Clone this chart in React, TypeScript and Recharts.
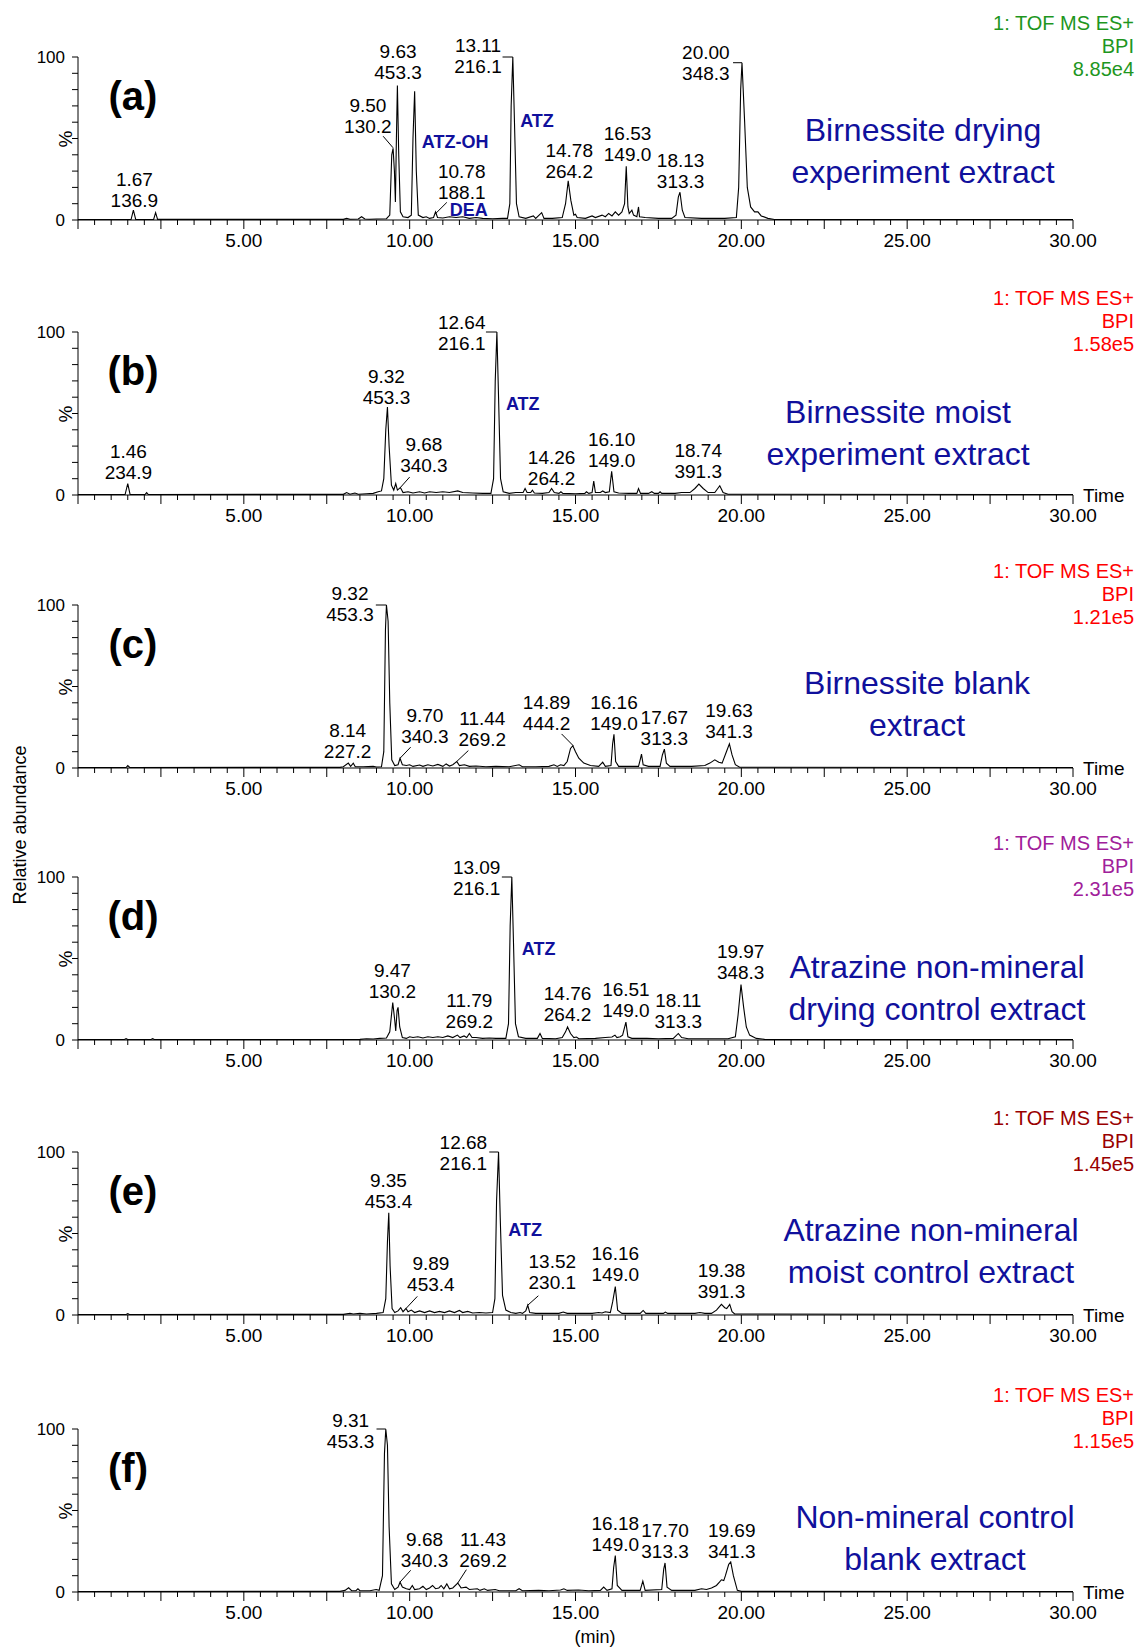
import React from "react";
import { ComposedChart, Line, Scatter, XAxis, YAxis, ReferenceLine } from "recharts";

const FONT = '"Liberation Sans", Arial, Helvetica, sans-serif';
const INK = "#000";
const NAVY = "#10109c";

// [retention time (min), relative abundance (%)]
type Pt = [number, number];
// [time, abundance at the lower text line, retention time text, m/z text]
type PeakLabel = [number, number, string, string];
// [time, abundance, compound name]
type Tag = [number, number, string];
// leader / bracket segment [t1, v1, t2, v2]
type Seg = [number, number, number, number];

const X_LABELS = [5, 10, 15, 20, 25, 30];
const Y_LABELS = [0, 100];
const X_TICKS = Array.from({ length: 61 }, (_, i) => i * 0.5);
const Y_TICKS = [0, 10, 20, 30, 40, 50, 60, 70, 80, 90, 100];

const traceA: Pt[] = [
  [0, 0.3], [1.6, 0.3], [1.67, 6], [1.74, 0.4], [2.28, 0.3], [2.34, 4.5], [2.4, 0.4],
  [8.0, 0.4], [8.1, 1], [8.2, 0.5], [8.45, 0.6], [8.55, 2], [8.65, 0.6], [8.8, 0.5], [9.0, 0.6],
  [9.3, 0.8], [9.4, 3], [9.46, 40], [9.5, 44], [9.54, 30], [9.57, 11], [9.6, 50], [9.63, 82.5],
  [9.67, 40], [9.72, 5], [9.8, 2], [9.95, 1.5], [10.05, 3], [10.1, 50], [10.15, 79], [10.2, 30],
  [10.26, 3], [10.4, 1.5], [10.5, 2], [10.6, 1], [10.72, 1.5], [10.78, 5], [10.84, 1.5], [11.0, 1.2],
  [11.2, 2], [11.4, 1.5], [11.6, 2], [11.8, 1], [12.0, 1.5], [12.2, 1], [12.5, 0.8], [12.8, 1],
  [12.95, 1], [13.02, 10], [13.06, 70], [13.11, 100], [13.16, 60], [13.22, 10], [13.3, 2], [13.5, 1],
  [13.73, 2.5], [13.8, 1], [13.98, 4.5], [14.05, 1], [14.3, 1], [14.6, 1.5], [14.7, 10], [14.78, 24],
  [14.86, 12], [14.95, 3], [15.0, 3.5], [15.05, 1.5], [15.3, 1], [15.5, 2.5], [15.6, 1.5], [15.8, 3],
  [15.9, 2], [16.0, 4], [16.1, 2.5], [16.2, 5], [16.3, 3], [16.4, 5], [16.48, 10], [16.53, 33],
  [16.58, 8], [16.62, 4], [16.7, 6], [16.75, 3], [16.85, 2], [16.9, 8], [16.93, 2], [17.1, 1.5],
  [17.5, 1], [17.9, 1], [18.03, 3], [18.1, 14], [18.15, 17], [18.22, 6], [18.3, 1.5], [18.8, 1],
  [19.5, 1], [19.85, 1.5], [19.92, 20], [19.98, 80], [20.02, 96.5], [20.1, 60], [20.18, 20],
  [20.28, 8], [20.4, 5], [20.5, 5], [20.6, 2.5], [20.8, 1], [21.0, 0.3], [30, 0.3],
];
const labelsA: PeakLabel[] = [
  [1.7, 11.8, "1.67", "136.9"], [8.74, 57.5, "9.50", "130.2"], [9.65, 90.5, "9.63", "453.3"],
  [12.06, 94, "13.11", "216.1"], [11.57, 17, "10.78", "188.1"], [14.81, 30, "14.78", "264.2"],
  [16.57, 40.2, "16.53", "149.0"], [18.17, 23.4, "18.13", "313.3"], [18.93, 90, "20.00", "348.3"],
];
const tagsA: Tag[] = [[11.37, 48, "ATZ-OH"], [13.84, 60.5, "ATZ"], [11.78, 6.3, "DEA"]];
const segsA: Seg[] = [
  [9.2, 51.4, 9.5, 44.3], [11.12, 10.8, 10.79, 4.1], [12.8, 100, 13.11, 100], [19.75, 96.5, 20.02, 96.5],
];

const traceB: Pt[] = [
  [0, 0.3], [1.42, 0.3], [1.5, 7], [1.57, 0.4], [2.02, 0.3], [2.07, 1.5], [2.12, 0.3], [8.0, 0.4],
  [8.1, 1.5], [8.2, 0.5], [8.35, 1.2], [8.45, 0.5], [8.7, 0.8], [8.9, 1], [9.05, 2], [9.15, 2.5],
  [9.22, 10], [9.28, 40], [9.33, 54], [9.38, 30], [9.45, 6], [9.52, 3], [9.58, 7], [9.63, 3],
  [9.72, 4.6], [9.8, 1.5], [9.95, 2], [10.1, 1.2], [10.3, 2], [10.45, 1.2], [10.6, 2], [10.8, 1.5],
  [11.0, 2], [11.2, 1.5], [11.45, 2.5], [11.6, 1.5], [11.9, 1.2], [12.2, 1], [12.45, 1], [12.53, 10],
  [12.58, 70], [12.63, 100], [12.68, 60], [12.74, 10], [12.82, 2], [13.0, 1], [13.2, 1.5], [13.42, 1.5],
  [13.48, 4], [13.54, 1.5], [13.65, 1.5], [13.7, 3], [13.76, 1.2], [14.0, 1], [14.2, 1.5], [14.28, 4],
  [14.36, 1.5], [14.5, 1], [14.56, 2], [14.62, 1], [15.0, 0.8], [15.28, 1], [15.33, 2], [15.4, 1],
  [15.5, 1.5], [15.55, 8.5], [15.6, 1.5], [15.75, 1.5], [15.82, 2.5], [15.9, 1.5], [16.02, 2],
  [16.09, 14.5], [16.16, 2], [16.3, 1.2], [16.6, 1], [16.85, 1], [16.9, 4], [16.96, 1], [17.2, 1],
  [17.3, 2], [17.38, 1], [17.5, 1], [17.55, 2], [17.6, 1], [18.0, 1], [18.2, 1.5], [18.45, 1.5],
  [18.6, 4], [18.72, 6.7], [18.85, 4], [19.0, 1.5], [19.2, 1.5], [19.35, 5.7], [19.45, 1.5],
  [19.6, 0.5], [30, 0.3],
];
const labelsB: PeakLabel[] = [
  [1.52, 14.1, "1.46", "234.9"], [9.3, 59.6, "9.32", "453.3"], [10.43, 18.2, "9.68", "340.3"],
  [11.57, 93, "12.64", "216.1"], [14.28, 10.1, "14.26", "264.2"], [16.09, 21.2, "16.10", "149.0"],
  [18.7, 14.5, "18.74", "391.3"],
];
const tagsB: Tag[] = [[13.41, 56, "ATZ"]];
const segsB: Seg[] = [[10.0, 11, 9.72, 4.6], [12.3, 100, 12.63, 100]];

const traceC: Pt[] = [
  [0, 0.3], [1.45, 0.3], [1.5, 1.5], [1.56, 0.3], [7.9, 0.4], [8.0, 0.8], [8.15, 3], [8.22, 1],
  [8.3, 3], [8.36, 0.8], [8.6, 0.8], [8.9, 1], [9.0, 0.6], [9.15, 0.8], [9.22, 10], [9.27, 85],
  [9.3, 100], [9.35, 90], [9.4, 40], [9.46, 5], [9.55, 1.5], [9.65, 2], [9.71, 6], [9.78, 2],
  [9.9, 1.5], [10.0, 2], [10.1, 1], [10.3, 1.8], [10.4, 1], [10.55, 2], [10.7, 1.2], [10.85, 2.2],
  [11.0, 1], [11.1, 2.5], [11.2, 1.2], [11.3, 2], [11.42, 4], [11.5, 1.5], [11.65, 2], [11.8, 1],
  [12.0, 1.2], [12.3, 0.8], [12.6, 1], [13.0, 0.8], [13.3, 2], [13.4, 0.8], [13.8, 0.8], [14.2, 1],
  [14.35, 2], [14.45, 1], [14.55, 2], [14.65, 1.5], [14.75, 4], [14.85, 12], [14.92, 13.7], [15.0, 10],
  [15.1, 6], [15.25, 3], [15.45, 1.5], [15.7, 1], [15.82, 3.6], [15.9, 1], [16.07, 1.5], [16.12, 15],
  [16.16, 20.7], [16.21, 4], [16.3, 1], [16.9, 1], [16.95, 5], [16.99, 8.5], [17.04, 2], [17.2, 1],
  [17.55, 1], [17.62, 8], [17.68, 11.6], [17.74, 3], [17.85, 1], [18.5, 1], [18.9, 1.5], [19.05, 3],
  [19.2, 5], [19.32, 3.5], [19.42, 3], [19.55, 10], [19.64, 14.8], [19.72, 8], [19.82, 2],
  [19.95, 0.5], [30, 0.3],
];
const labelsC: PeakLabel[] = [
  [8.13, 10.1, "8.14", "227.2"], [8.2, 94, "9.32", "453.3"], [10.46, 19.2, "9.70", "340.3"],
  [12.19, 17.2, "11.44", "269.2"], [14.13, 27.4, "14.89", "444.2"], [16.16, 27.4, "16.16", "149.0"],
  [17.68, 18.3, "17.67", "313.3"], [19.63, 22.3, "19.63", "341.3"],
];
const tagsC: Tag[] = [];
const segsC: Seg[] = [
  [10.03, 12.8, 9.71, 6], [11.77, 10.7, 11.42, 4], [14.58, 20.9, 14.93, 13.7], [8.98, 100, 9.3, 100],
];

const traceD: Pt[] = [
  [0, 0.3], [1.4, 0.3], [1.45, 0.8], [1.5, 0.3], [2.2, 0.3], [2.25, 0.8], [2.3, 0.3], [8.5, 0.4],
  [8.7, 0.8], [8.9, 0.6], [9.1, 1], [9.3, 1.2], [9.4, 5], [9.49, 23], [9.55, 12], [9.58, 5.5],
  [9.62, 18], [9.65, 20], [9.7, 8], [9.78, 1.5], [9.9, 1], [10.0, 2], [10.1, 1.5], [10.25, 2],
  [10.4, 1.2], [10.55, 2], [10.7, 1.5], [10.85, 2], [11.0, 1.5], [11.15, 2.5], [11.3, 1.5], [11.44, 3],
  [11.52, 1.5], [11.64, 2.5], [11.72, 1.5], [11.8, 4], [11.88, 1.5], [12.0, 1.5], [12.2, 1],
  [12.4, 1.2], [12.6, 1], [12.9, 1], [12.98, 10], [13.03, 70], [13.08, 100], [13.13, 60], [13.19, 10],
  [13.28, 2], [13.5, 1], [13.85, 1], [13.93, 4], [14.0, 1], [14.4, 0.8], [14.6, 1.5], [14.7, 5],
  [14.76, 8], [14.85, 4], [14.95, 1.5], [15.03, 1.8], [15.1, 0.8], [15.6, 1], [15.9, 1.5], [16.1, 1.8],
  [16.19, 3], [16.25, 1.5], [16.35, 2], [16.42, 3], [16.52, 11], [16.58, 2], [16.7, 1], [17.15, 1],
  [17.5, 0.8], [17.95, 1], [18.1, 4], [18.2, 1.5], [18.4, 0.8], [19.6, 0.8], [19.82, 2], [19.9, 15],
  [19.99, 34], [20.07, 20], [20.15, 8], [20.25, 3], [20.45, 1], [20.7, 0.4], [30, 0.3],
];
const labelsD: PeakLabel[] = [
  [9.48, 29.8, "9.47", "130.2"], [11.8, 11.5, "11.79", "269.2"], [12.02, 93, "13.09", "216.1"],
  [14.76, 15.5, "14.76", "264.2"], [16.52, 18.2, "16.51", "149.0"], [18.1, 11.5, "18.11", "313.3"],
  [19.98, 41.3, "19.97", "348.3"],
];
const tagsD: Tag[] = [[13.89, 56, "ATZ"]];
const segsD: Seg[] = [[12.78, 100, 13.08, 100]];

const traceE: Pt[] = [
  [0, 0.3], [1.45, 0.3], [1.5, 0.8], [1.55, 0.3], [8.0, 0.4], [8.2, 1], [8.3, 0.6], [8.5, 1],
  [8.7, 0.6], [9.0, 1], [9.2, 1.5], [9.28, 10], [9.33, 45], [9.37, 62.7], [9.41, 30], [9.47, 4],
  [9.55, 1.5], [9.65, 2.5], [9.73, 4.5], [9.8, 2], [9.89, 4], [9.95, 2], [10.05, 3], [10.15, 1.5],
  [10.3, 2.5], [10.45, 1.5], [10.6, 2.5], [10.75, 1.5], [10.9, 2.2], [11.05, 1.5], [11.2, 2.5],
  [11.35, 1.5], [11.5, 2.8], [11.6, 1.5], [11.75, 2.2], [11.9, 1.2], [12.1, 1.5], [12.3, 1.2],
  [12.5, 1.5], [12.57, 10], [12.62, 70], [12.68, 100], [12.73, 60], [12.8, 12], [12.9, 3], [13.05, 1.5],
  [13.2, 1], [13.33, 1.5], [13.4, 1], [13.5, 2.5], [13.56, 6], [13.62, 1.5], [13.8, 1], [14.5, 1],
  [14.63, 1.8], [14.75, 1], [15.5, 1], [15.7, 1.5], [15.8, 1.2], [15.9, 2], [16.05, 1.5], [16.12, 8],
  [16.2, 17.4], [16.27, 3], [16.4, 1], [16.95, 1], [17.04, 2.8], [17.12, 1], [17.65, 1], [17.71, 1.8],
  [17.78, 1], [18.6, 1], [18.75, 1.5], [18.9, 1], [19.1, 1], [19.25, 3], [19.4, 6.5], [19.5, 4.5],
  [19.56, 4], [19.65, 6.5], [19.72, 2], [19.8, 0.6], [30, 0.3],
];
const labelsE: PeakLabel[] = [
  [9.36, 69.8, "9.35", "453.4"], [10.64, 19, "9.89", "453.4"], [11.62, 93, "12.68", "216.1"],
  [14.3, 20, "13.52", "230.1"], [16.2, 24.7, "16.16", "149.0"], [19.4, 14.5, "19.38", "391.3"],
];
const tagsE: Tag[] = [[13.48, 52, "ATZ"]];
const segsE: Seg[] = [[10.23, 11.4, 9.89, 4], [13.88, 11.8, 13.56, 6], [12.4, 100, 12.68, 100]];

const traceF: Pt[] = [
  [0, 0.3], [7.9, 0.4], [8.05, 1], [8.16, 2.6], [8.25, 0.8], [8.38, 0.8], [8.44, 2], [8.5, 0.8],
  [8.8, 0.8], [8.99, 1.5], [9.08, 1], [9.18, 10], [9.24, 85], [9.28, 100], [9.33, 90], [9.38, 40],
  [9.45, 5], [9.55, 1.5], [9.65, 3], [9.71, 6], [9.78, 3], [9.9, 2], [10.0, 1.5], [10.08, 4],
  [10.15, 1.5], [10.3, 2], [10.4, 3.5], [10.5, 1.5], [10.6, 2.5], [10.69, 4], [10.78, 2], [10.88, 2.5],
  [10.95, 4], [11.03, 2], [11.12, 5], [11.2, 2], [11.3, 2.5], [11.45, 5.5], [11.55, 2.5], [11.7, 3],
  [11.8, 1.5], [12.04, 2], [12.12, 1], [12.25, 2], [12.35, 1], [12.58, 1.5], [12.7, 0.8], [13.2, 0.8],
  [13.3, 2], [13.4, 0.8], [13.89, 1], [14.2, 0.8], [14.55, 1.2], [14.65, 2], [14.75, 1], [15.09, 1.2],
  [15.4, 0.8], [15.75, 1], [15.85, 3], [15.95, 1], [16.1, 2], [16.15, 15], [16.2, 22.4], [16.26, 4],
  [16.4, 1], [16.95, 1], [17.03, 6.7], [17.1, 1], [17.6, 1.5], [17.66, 14], [17.7, 17.8], [17.76, 3],
  [17.9, 1], [18.6, 1], [18.8, 2], [18.95, 1.5], [19.1, 2.5], [19.25, 4], [19.34, 6], [19.4, 7.5],
  [19.47, 7], [19.52, 10], [19.62, 17], [19.68, 18.4], [19.76, 10], [19.88, 1], [20.0, 0.4], [30, 0.3],
];
const labelsF: PeakLabel[] = [
  [8.22, 92.4, "9.31", "453.3"], [10.45, 19.4, "9.68", "340.3"], [12.21, 19.4, "11.43", "269.2"],
  [16.2, 29.2, "16.18", "149.0"], [17.7, 24.9, "17.70", "313.3"], [19.71, 25.1, "19.69", "341.3"],
];
const tagsF: Tag[] = [];
const segsF: Seg[] = [[10.03, 13.3, 9.71, 6.1], [11.71, 13.7, 11.45, 5.5], [9.0, 100, 9.28, 100]];

const PANELS = [
  { letter: "(a)", top: 57, trace: traceA, labels: labelsA, tags: tagsA, segs: segsA, color: "#1e961e",
    scale: "8.85e4", title: ["Birnessite drying", "experiment extract"], tx: 923, ty: [130, 172], time: false },
  { letter: "(b)", top: 332, trace: traceB, labels: labelsB, tags: tagsB, segs: segsB, color: "#ff0000",
    scale: "1.58e5", title: ["Birnessite moist", "experiment extract"], tx: 898, ty: [412, 454], time: true },
  { letter: "(c)", top: 605, trace: traceC, labels: labelsC, tags: tagsC, segs: segsC, color: "#ff0000",
    scale: "1.21e5", title: ["Birnessite blank", "extract"], tx: 917, ty: [683, 725], time: true },
  { letter: "(d)", top: 877, trace: traceD, labels: labelsD, tags: tagsD, segs: segsD, color: "#a0209a",
    scale: "2.31e5", title: ["Atrazine non-mineral", "drying control extract"], tx: 937, ty: [967, 1009], time: false },
  { letter: "(e)", top: 1152, trace: traceE, labels: labelsE, tags: tagsE, segs: segsE, color: "#990000",
    scale: "1.45e5", title: ["Atrazine non-mineral", "moist control extract"], tx: 931, ty: [1230, 1272], time: true },
  { letter: "(f)", top: 1429, trace: traceF, labels: labelsF, tags: tagsF, segs: segsF, color: "#ff0000",
    scale: "1.15e5", title: ["Non-mineral control", "blank extract"], tx: 935, ty: [1517, 1559], time: true },
];

const PLOT_H = 163;
const X_AXIS_H = 38;

const XTick = (props: any) => {
  const { x, y, payload } = props;
  const v = payload.value;
  const major = Math.abs(v / 2.5 - Math.round(v / 2.5)) < 1e-6;
  const show = X_LABELS.includes(v);
  return (
    <g>
      <line x1={x} x2={x} y1={y} y2={y + (major ? 9 : 5)} stroke={INK} strokeWidth={1} />
      {show && (
        <text x={x} y={y + 20} textAnchor="middle" dominantBaseline="central" fontSize={19} fontFamily={FONT} fill={INK}>
          {v.toFixed(2)}
        </text>
      )}
    </g>
  );
};

const PeakText = (props: any) => {
  const { cx, cy } = props;
  const p = props.payload || props;
  return (
    <g>
      <text x={cx} y={cy - 21} textAnchor="middle" dominantBaseline="central" fontSize={19} fontFamily={FONT} fill={INK}>
        {p.a}
      </text>
      <text x={cx} y={cy} textAnchor="middle" dominantBaseline="central" fontSize={19} fontFamily={FONT} fill={INK}>
        {p.b}
      </text>
    </g>
  );
};

const TagText = (props: any) => {
  const { cx, cy } = props;
  const p = props.payload || props;
  return (
    <text x={cx} y={cy} textAnchor="middle" dominantBaseline="central" fontSize={18} fontWeight="bold" fontFamily={FONT} fill={NAVY}>
      {p.name}
    </text>
  );
};

function Panel({ p }: { p: (typeof PANELS)[number] }) {
  const line = p.trace.map(([t, v]) => ({ t, v }));
  const labels = p.labels.map(([t, v, a, b]) => ({ t, v, a, b }));
  const tags = p.tags.map(([t, v, name]) => ({ t, v, name }));
  return (
    <div style={{ position: "absolute", left: 0, top: p.top - 50 }}>
      <ComposedChart width={1137} height={50 + PLOT_H + X_AXIS_H} margin={{ top: 50, right: 64, bottom: 0, left: 0 }}>
        <XAxis
          type="number"
          dataKey="t"
          domain={[0, 30]}
          ticks={X_TICKS}
          interval={0}
          height={X_AXIS_H}
          tickSize={0}
          tickMargin={0}
          tickLine={false}
          axisLine={{ stroke: INK }}
          tick={(tp: any) => <XTick {...tp} />}
        />
        <YAxis
          type="number"
          domain={[0, 100]}
          ticks={Y_TICKS}
          interval={0}
          width={78}
          tickSize={6}
          tickMargin={7}
          tickLine={{ stroke: INK }}
          axisLine={{ stroke: INK }}
          tick={{ fill: INK, fontSize: 17, fontFamily: FONT }}
          tickFormatter={(v: number) => (Y_LABELS.includes(v) ? String(v) : "")}
        />
        <Line data={line} dataKey="v" type="linear" stroke={INK} strokeWidth={1.1} dot={false} activeDot={false} isAnimationActive={false} />
        {p.segs.map(([t1, v1, t2, v2], i) => (
          <ReferenceLine
            key={i}
            segment={[{ x: t1, y: v1 }, { x: t2, y: v2 }]}
            stroke={INK}
            strokeWidth={1}
            ifOverflow="visible"
          />
        ))}
        <Scatter data={labels} dataKey="v" shape={(sp: any) => <PeakText {...sp} />} isAnimationActive={false} />
        {tags.length > 0 && (
          <Scatter data={tags} dataKey="v" shape={(sp: any) => <TagText {...sp} />} isAnimationActive={false} />
        )}
      </ComposedChart>
    </div>
  );
}

export default function App() {
  return (
    <div style={{ position: "absolute", left: 0, top: 0, width: 1137, height: 1648, background: "#fff", fontFamily: FONT }}>
      {PANELS.map((p) => (
        <Panel key={p.letter} p={p} />
      ))}
      <svg width={1137} height={1648} style={{ position: "absolute", left: 0, top: 0, pointerEvents: "none" }}>
        {PANELS.map((p) => (
          <g key={p.letter} fontFamily={FONT}>
            <text x={p.letter === "(f)" ? 128 : 133} y={p.top + 39} textAnchor="middle" dominantBaseline="central" fontSize={40} fontWeight="bold" fill={INK}>
              {p.letter}
            </text>
            <text transform={`translate(65, ${p.top + 82}) rotate(-90)`} textAnchor="middle" dominantBaseline="central" fontSize={19} fill={INK}>
              %
            </text>
            {["1: TOF MS ES+", "BPI", p.scale].map((s, i) => (
              <text key={i} x={1134} y={p.top - 34 + i * 23} textAnchor="end" dominantBaseline="central" fontSize={20} fill={p.color}>
                {s}
              </text>
            ))}
            {p.title.map((s, i) => (
              <text key={i} x={p.tx} y={p.ty[i]} textAnchor="middle" dominantBaseline="central" fontSize={32} fill={NAVY}>
                {s}
              </text>
            ))}
            {p.time && (
              <text x={1083} y={p.top + PLOT_H} dominantBaseline="central" fontSize={19} fill={INK}>
                Time
              </text>
            )}
          </g>
        ))}
        <text transform="translate(20, 825) rotate(-90)" textAnchor="middle" dominantBaseline="central" fontSize={18} fontFamily={FONT} fill={INK}>
          Relative abundance
        </text>
        <text x={595} y={1637} textAnchor="middle" dominantBaseline="central" fontSize={18} fontFamily={FONT} fill={INK}>
          (min)
        </text>
      </svg>
    </div>
  );
}
